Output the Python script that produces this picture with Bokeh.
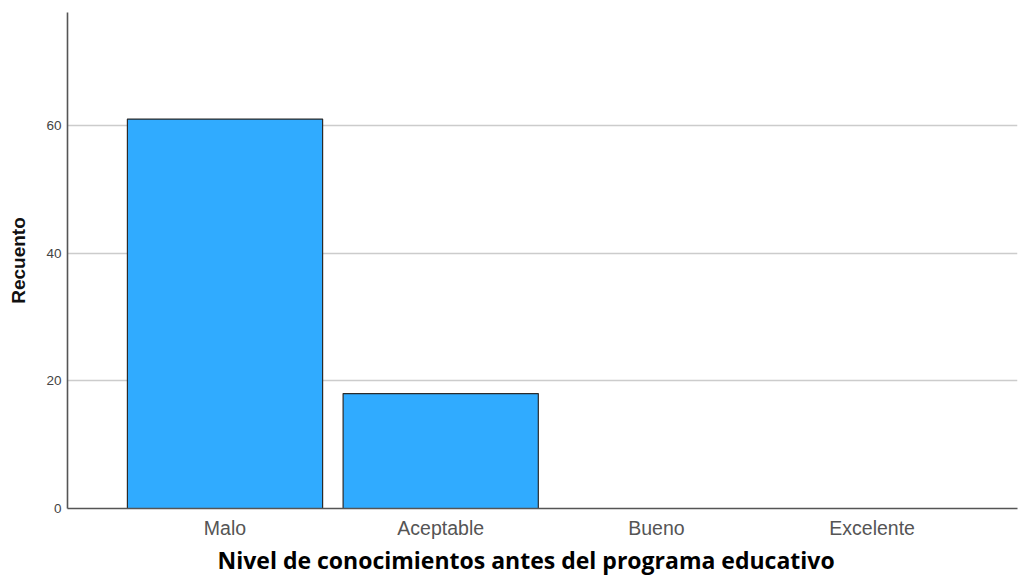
from bokeh.plotting import figure
from bokeh.models import FixedTicker, Range1d, Title
from bokeh.embed import file_html
from bokeh.resources import INLINE

categories = ["Malo", "Aceptable", "Bueno", "Excelente"]
counts = [61, 18, 0, 0]
y_ticks = [0, 20, 40, 60]
x_title = "Nivel de conocimientos antes del programa educativo"
y_title = "Recuento"

xs = list(range(1, len(categories) + 1))

p = figure(width=1019, height=578, output_backend="svg", toolbar_location=None,
           x_range=Range1d(0.2698, 4.674), y_range=Range1d(0, 77.7),
           min_border_left=67, min_border_right=2, min_border_top=12, min_border_bottom=70)

p.vbar(x=xs, top=counts, width=0.905, fill_color="#30abff", line_color="#2a2a2a", line_width=1.2)

p.outline_line_color = None
p.xgrid.grid_line_color = None
p.ygrid.grid_line_color = "#cccccc"
p.ygrid.grid_line_width = 1.4
p.ygrid.ticker = FixedTicker(ticks=y_ticks)

p.yaxis.ticker = FixedTicker(ticks=y_ticks)
p.xaxis.ticker = FixedTicker(ticks=xs)
p.xaxis.major_label_overrides = {i: c for i, c in zip(xs, categories)}

for ax in (p.xaxis, p.yaxis):
    ax.axis_line_color = "#555555"
    ax.axis_line_width = 1.6
    ax.major_tick_line_color = None
    ax.minor_tick_line_color = None
    ax.major_tick_out = 0
    ax.major_tick_in = 0
    ax.minor_tick_out = 0
    ax.minor_tick_in = 0

p.yaxis.major_label_text_font = "Liberation Sans"
p.yaxis.major_label_text_font_size = "13.5px"
p.yaxis.major_label_text_color = "#444444"
p.yaxis.major_label_standoff = 6
p.yaxis.axis_label = y_title
p.yaxis.axis_label_text_font = "Liberation Sans"
p.yaxis.axis_label_text_font_style = "bold"
p.yaxis.axis_label_text_font_size = "19px"
p.yaxis.axis_label_text_color = "#111111"
p.yaxis.axis_label_standoff = 14

p.xaxis.major_label_text_font = "Liberation Sans"
p.xaxis.major_label_text_font_size = "19.5px"
p.xaxis.major_label_text_color = "#555555"
p.xaxis.major_label_standoff = 8

title = Title(text=x_title, align="left", offset=150, standoff=0, vertical_align="bottom",
              text_font="Open Sans", text_font_style="bold", text_font_size="23px",
              text_color="#000000")
p.add_layout(title, "below")

open("out.html", "w").write(file_html(p, INLINE))
